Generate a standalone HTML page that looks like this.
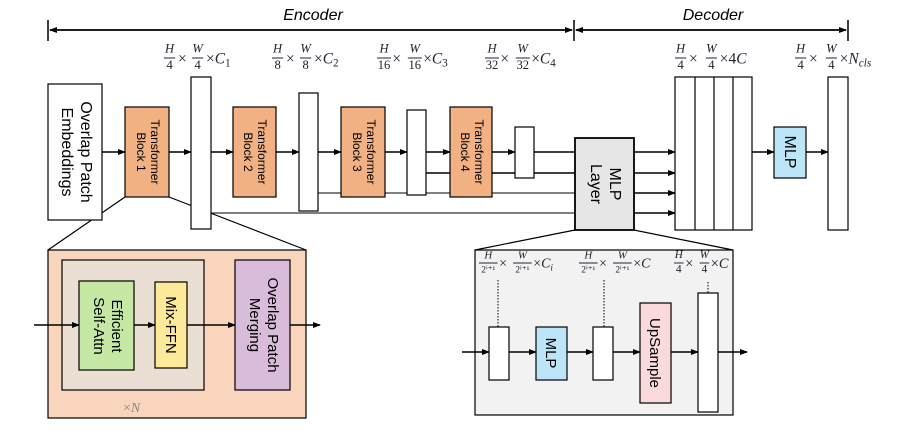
<!DOCTYPE html>
<html><head><meta charset="utf-8"><style>
body{margin:0;background:#fff}
svg{display:block;font-family:"Liberation Sans",sans-serif}
.m{font-family:"Liberation Serif",serif;fill:#223}
.f{font-size:9px;font-style:italic}
.d{font-size:9px}
</style></head><body>
<svg width="899" height="434" viewBox="0 0 899 434" xmlns="http://www.w3.org/2000/svg">
<defs>
<marker id="a" markerWidth="8" markerHeight="8" refX="7" refY="4" orient="auto" markerUnits="userSpaceOnUse"><path d="M0,1 L8,4 L0,7 Z" fill="#000"/></marker>
</defs>
<g stroke="#000" stroke-width="1.5" fill="none">
<line x1="48" y1="20" x2="48" y2="41"/><line x1="574" y1="20" x2="574" y2="41"/><line x1="848" y1="20" x2="848" y2="41"/>
<line x1="50" y1="30" x2="572" y2="30" marker-end="url(#a)"/>
<line x1="572" y1="30" x2="50" y2="30" marker-end="url(#a)"/>
<line x1="576" y1="30" x2="846" y2="30" marker-end="url(#a)"/>
<line x1="846" y1="30" x2="576" y2="30" marker-end="url(#a)"/>
</g>
<text x="313" y="20" font-size="16" font-style="italic" text-anchor="middle">Encoder</text>
<text x="713" y="20" font-size="16" font-style="italic" text-anchor="middle">Decoder</text>

<!-- top labels -->
<g class="m">
<g transform="translate(164,58) scale(1.4)"><text class="f" x="4" y="-4" text-anchor="middle">H</text><line x1="0" y1="0" x2="8" y2="0" stroke="#223" stroke-width=".7"/><text class="d" x="4" y="8" text-anchor="middle">4</text><text x="10" y="4" font-size="11">×</text><text class="f" x="24" y="-4" text-anchor="middle">W</text><line x1="20" y1="0" x2="28" y2="0" stroke="#223" stroke-width=".7"/><text class="d" x="24" y="8" text-anchor="middle">4</text><text x="30" y="4" font-size="11">×<tspan font-style="italic">C</tspan><tspan font-size="8" dy="2">1</tspan></text></g>
<g transform="translate(272,58) scale(1.4)"><text class="f" x="4" y="-4" text-anchor="middle">H</text><line x1="0" y1="0" x2="8" y2="0" stroke="#223" stroke-width=".7"/><text class="d" x="4" y="8" text-anchor="middle">8</text><text x="10" y="4" font-size="11">×</text><text class="f" x="24" y="-4" text-anchor="middle">W</text><line x1="20" y1="0" x2="28" y2="0" stroke="#223" stroke-width=".7"/><text class="d" x="24" y="8" text-anchor="middle">8</text><text x="30" y="4" font-size="11">×<tspan font-style="italic">C</tspan><tspan font-size="8" dy="2">2</tspan></text></g>
<g transform="translate(377,58) scale(1.4)"><text class="f" x="5" y="-4" text-anchor="middle">H</text><line x1="0" y1="0" x2="10" y2="0" stroke="#223" stroke-width=".7"/><text class="d" x="5" y="8" text-anchor="middle">16</text><text x="11" y="4" font-size="11">×</text><text class="f" x="27" y="-4" text-anchor="middle">W</text><line x1="22" y1="0" x2="32" y2="0" stroke="#223" stroke-width=".7"/><text class="d" x="27" y="8" text-anchor="middle">16</text><text x="33" y="4" font-size="11">×<tspan font-style="italic">C</tspan><tspan font-size="8" dy="2">3</tspan></text></g>
<g transform="translate(485,58) scale(1.4)"><text class="f" x="5" y="-4" text-anchor="middle">H</text><line x1="0" y1="0" x2="10" y2="0" stroke="#223" stroke-width=".7"/><text class="d" x="5" y="8" text-anchor="middle">32</text><text x="11" y="4" font-size="11">×</text><text class="f" x="27" y="-4" text-anchor="middle">W</text><line x1="22" y1="0" x2="32" y2="0" stroke="#223" stroke-width=".7"/><text class="d" x="27" y="8" text-anchor="middle">32</text><text x="33" y="4" font-size="11">×<tspan font-style="italic">C</tspan><tspan font-size="8" dy="2">4</tspan></text></g>
<g transform="translate(675,58) scale(1.4)"><text class="f" x="4" y="-4" text-anchor="middle">H</text><line x1="0" y1="0" x2="8" y2="0" stroke="#223" stroke-width=".7"/><text class="d" x="4" y="8" text-anchor="middle">4</text><text x="10" y="4" font-size="11">×</text><text class="f" x="26" y="-4" text-anchor="middle">W</text><line x1="22" y1="0" x2="30" y2="0" stroke="#223" stroke-width=".7"/><text class="d" x="26" y="8" text-anchor="middle">4</text><text x="32" y="4" font-size="11">×4<tspan font-style="italic">C</tspan></text></g>
<g transform="translate(795,58) scale(1.4)"><text class="f" x="4" y="-4" text-anchor="middle">H</text><line x1="0" y1="0" x2="8" y2="0" stroke="#223" stroke-width=".7"/><text class="d" x="4" y="8" text-anchor="middle">4</text><text x="10" y="4" font-size="11">×</text><text class="f" x="26" y="-4" text-anchor="middle">W</text><line x1="22" y1="0" x2="30" y2="0" stroke="#223" stroke-width=".7"/><text class="d" x="26" y="8" text-anchor="middle">4</text><text x="32" y="4" font-size="11">×<tspan font-style="italic">N</tspan><tspan font-size="8" font-style="italic" dy="2">cls</tspan></text></g>
</g>

<!-- zoom trapezoid lines -->
<g stroke="#000" stroke-width="1.2">
<line x1="125" y1="197" x2="48" y2="250"/><line x1="169" y1="197" x2="306" y2="250"/>
<line x1="575" y1="230" x2="475" y2="250"/><line x1="634" y1="230" x2="733" y2="250"/>
</g>

<!-- connectors -->
<g stroke="#000" stroke-width="1.5" fill="none">
<line x1="102" y1="152" x2="125" y2="152" marker-end="url(#a)"/>
<line x1="169" y1="152" x2="191" y2="152" marker-end="url(#a)"/>
<line x1="211" y1="152" x2="233" y2="152" marker-end="url(#a)"/>
<line x1="276" y1="152" x2="299" y2="152" marker-end="url(#a)"/>
<line x1="318" y1="152" x2="341" y2="152" marker-end="url(#a)"/>
<line x1="385" y1="152" x2="407" y2="152" marker-end="url(#a)"/>
<line x1="426" y1="152" x2="450" y2="152" marker-end="url(#a)"/>
<line x1="492" y1="152" x2="515" y2="152" marker-end="url(#a)"/>
<line x1="534" y1="152" x2="575" y2="152"/>
<line x1="426" y1="173" x2="575" y2="173"/>
</g>
<g stroke="#000" stroke-width="1" fill="none">
<line x1="318" y1="193" x2="575" y2="193"/>
<line x1="211" y1="213" x2="575" y2="213"/>
</g>
<g stroke="#000" stroke-width="1.5">
<line x1="634" y1="152" x2="675" y2="152" marker-end="url(#a)"/>
<line x1="634" y1="173" x2="675" y2="173" marker-end="url(#a)"/>
<line x1="634" y1="193" x2="675" y2="193" marker-end="url(#a)"/>
<line x1="634" y1="213" x2="675" y2="213" marker-end="url(#a)"/>
<line x1="752" y1="152" x2="774" y2="152" marker-end="url(#a)"/>
<line x1="806" y1="152" x2="828" y2="152" marker-end="url(#a)"/>
</g>

<!-- top boxes -->
<g stroke="#000" stroke-width="1.2">
<rect x="48" y="84" width="54" height="136" fill="#fff"/>
<rect x="125" y="107" width="44" height="90" fill="#f1b183"/>
<rect x="191" y="77" width="20" height="152" fill="#fff"/>
<rect x="233" y="107" width="43" height="90" fill="#f1b183"/>
<rect x="299" y="93" width="19" height="118" fill="#fff"/>
<rect x="341" y="107" width="44" height="90" fill="#f1b183"/>
<rect x="407" y="110" width="19" height="85" fill="#fff"/>
<rect x="450" y="107" width="42" height="90" fill="#f1b183"/>
<rect x="515" y="127" width="19" height="51" fill="#fff"/>
<rect x="575" y="138" width="59" height="92" fill="#e6e6e6" stroke-width="1.8"/>
<rect x="675" y="77" width="77" height="153" fill="#fff"/>
<line x1="695" y1="77" x2="695" y2="230"/><line x1="714" y1="77" x2="714" y2="230"/><line x1="733" y1="77" x2="733" y2="230"/>
<rect x="774" y="127" width="32" height="51" fill="#bde5f8"/>
<rect x="828" y="77" width="20" height="153" fill="#fff"/>
</g>
<g font-size="16" text-anchor="middle">
<text transform="translate(75,152) rotate(90)"><tspan x="0" y="-6">Overlap Patch</tspan><tspan x="0" y="13">Embeddings</tspan></text>
<text transform="translate(604,184) rotate(90)"><tspan x="0" y="-6">MLP</tspan><tspan x="0" y="13">Layer</tspan></text>
<text transform="translate(790,152) rotate(90)" y="5">MLP</text>
</g>
<g font-size="12" text-anchor="middle">
<text transform="translate(147,152) rotate(90)"><tspan x="0" y="-4">Transformer</tspan><tspan x="0" y="10">Block 1</tspan></text>
<text transform="translate(254,152) rotate(90)"><tspan x="0" y="-4">Transformer</tspan><tspan x="0" y="10">Block 2</tspan></text>
<text transform="translate(363,152) rotate(90)"><tspan x="0" y="-4">Transformer</tspan><tspan x="0" y="10">Block 3</tspan></text>
<text transform="translate(471,152) rotate(90)"><tspan x="0" y="-4">Transformer</tspan><tspan x="0" y="10">Block 4</tspan></text>
</g>

<!-- bottom left -->
<g stroke="#000" stroke-width="1.2">
<rect x="48" y="250" width="258" height="168" fill="#f8d5bc"/>
<rect x="62" y="260" width="142" height="130" fill="#ebdfd4"/>
<rect x="79" y="281" width="55" height="89" fill="#c5e8a5"/>
<rect x="155" y="282" width="32" height="86" fill="#fde99a"/>
<rect x="235" y="260" width="55" height="130" fill="#d9bcd9"/>
</g>
<g stroke="#000" stroke-width="1.5">
<line x1="34" y1="325" x2="79" y2="325" marker-end="url(#a)"/>
<line x1="134" y1="325" x2="155" y2="325" marker-end="url(#a)"/>
<line x1="187" y1="325" x2="235" y2="325" marker-end="url(#a)"/>
<line x1="290" y1="325" x2="320" y2="325" marker-end="url(#a)"/>
</g>
<g font-size="15" text-anchor="middle">
<text transform="translate(106,326) rotate(90)"><tspan x="0" y="-6">Efficient</tspan><tspan x="0" y="12">Self-Attn</tspan></text>
<text transform="translate(171,325) rotate(90)" y="5">Mix-FFN</text>
<text transform="translate(262,325) rotate(90)"><tspan x="0" y="-6">Overlap Patch</tspan><tspan x="0" y="12">Merging</tspan></text>
</g>
<text x="123" y="412" font-size="14" fill="#888" font-family="Liberation Serif,serif">×<tspan font-style="italic">N</tspan></text>

<!-- bottom right -->
<g stroke="#000" stroke-width="1.2">
<rect x="475" y="250" width="258" height="165" fill="#f2f2f2"/>
</g>
<g stroke="#000" stroke-width="1" stroke-dasharray="1.5,1.5">
<line x1="498" y1="280" x2="498" y2="327"/><line x1="604" y1="280" x2="604" y2="327"/><line x1="708" y1="282" x2="708" y2="293"/>
</g>
<g stroke="#000" stroke-width="1.5">
<line x1="462" y1="352" x2="489" y2="352" marker-end="url(#a)"/>
<line x1="509" y1="352" x2="536" y2="352" marker-end="url(#a)"/>
<line x1="567" y1="352" x2="593" y2="352" marker-end="url(#a)"/>
<line x1="613" y1="352" x2="640" y2="352" marker-end="url(#a)"/>
<line x1="671" y1="352" x2="698" y2="352" marker-end="url(#a)"/>
<line x1="718" y1="352" x2="747" y2="352" marker-end="url(#a)"/>
</g>
<g stroke="#000" stroke-width="1.2">
<rect x="489" y="327" width="20" height="53" fill="#fff"/>
<rect x="536" y="327" width="31" height="53" fill="#bde5f8"/>
<rect x="593" y="327" width="20" height="53" fill="#fff"/>
<rect x="640" y="303" width="31" height="100" fill="#fadadd"/>
<rect x="698" y="293" width="20" height="119" fill="#fff"/>
</g>
<g font-size="15" text-anchor="middle">
<text transform="translate(551,353) rotate(90)" y="5">MLP</text>
<text transform="translate(655,353) rotate(90)" y="5">UpSample</text>
</g>
<g class="m">
<g transform="translate(479,263) scale(1.55)"><text x="6" y="-3" font-size="7" font-style="italic" text-anchor="middle">H</text><line x1="0" y1="0" x2="12" y2="0" stroke="#223" stroke-width=".6"/><text x="6" y="6" font-size="6" text-anchor="middle">2ⁱ⁺¹</text><text x="13" y="3" font-size="9">×</text><text x="28" y="-3" font-size="7" font-style="italic" text-anchor="middle">W</text><line x1="22" y1="0" x2="34" y2="0" stroke="#223" stroke-width=".6"/><text x="28" y="6" font-size="6" text-anchor="middle">2ⁱ⁺¹</text><text x="35" y="3" font-size="9">×<tspan font-style="italic">C</tspan><tspan font-size="6" font-style="italic" dy="2">i</tspan></text></g>
<g transform="translate(579,263) scale(1.55)"><text x="6" y="-3" font-size="7" font-style="italic" text-anchor="middle">H</text><line x1="0" y1="0" x2="12" y2="0" stroke="#223" stroke-width=".6"/><text x="6" y="6" font-size="6" text-anchor="middle">2ⁱ⁺¹</text><text x="13" y="3" font-size="9">×</text><text x="28" y="-3" font-size="7" font-style="italic" text-anchor="middle">W</text><line x1="22" y1="0" x2="34" y2="0" stroke="#223" stroke-width=".6"/><text x="28" y="6" font-size="6" text-anchor="middle">2ⁱ⁺¹</text><text x="35" y="3" font-size="9">×<tspan font-style="italic">C</tspan></text></g>
<g transform="translate(674,263) scale(1.6)"><text x="3" y="-3" font-size="7" font-style="italic" text-anchor="middle">H</text><line x1="0" y1="0" x2="6" y2="0" stroke="#223" stroke-width=".6"/><text x="3" y="6" font-size="7" text-anchor="middle">4</text><text x="7" y="3" font-size="9">×</text><text x="19" y="-3" font-size="7" font-style="italic" text-anchor="middle">W</text><line x1="16" y1="0" x2="22" y2="0" stroke="#223" stroke-width=".6"/><text x="19" y="6" font-size="7" text-anchor="middle">4</text><text x="23" y="3" font-size="9">×<tspan font-style="italic">C</tspan></text></g>
</g>
</svg>
</body></html>
